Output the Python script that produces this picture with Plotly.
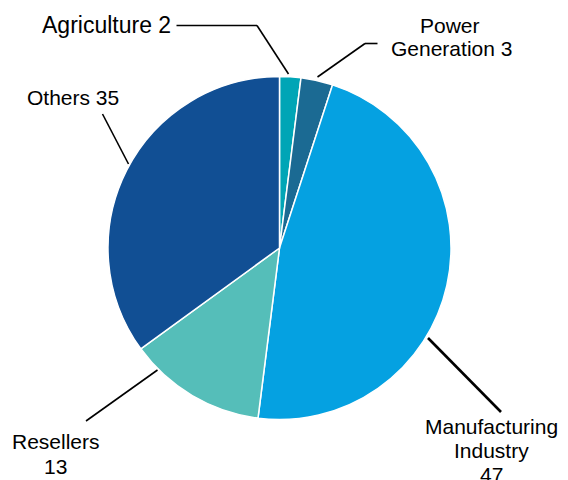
import plotly.graph_objects as go

# Data
categories = ["Agriculture", "Power Generation", "Manufacturing Industry", "Resellers", "Others"]
values = [2, 3, 47, 13, 35]
colors = ["#00A5B6", "#1B6A93", "#05A1E1", "#55BEB9", "#114F94"]

W, H = 568, 480
CX, CY, R = 279.5, 248.0, 171.5


def px(x):
    return x / W


def py(y):
    return 1 - y / H


fig = go.Figure(go.Pie(
    labels=categories,
    values=values,
    sort=False,
    direction="clockwise",
    rotation=0,
    marker=dict(colors=colors, line=dict(color="white", width=1.5)),
    textinfo="none",
    hoverinfo="label+value",
    showlegend=False,
    domain=dict(x=[px(CX - R), px(CX + R)], y=[py(CY + R), py(CY - R)]),
))

# Leader lines (pixel coordinates of layout, not data)
leaders = [
    ([(176.5, 25.5), (257, 25.5), (288.5, 74)], 1.6),
    ([(317.5, 77), (365, 43.5), (377.5, 43.5)], 1.6),
    ([(428, 338), (501, 412)], 2.6),
    ([(157.5, 370), (86, 421)], 1.6),
    ([(128.5, 164), (102.5, 114)], 1.6),
]
shapes = []
for pts, w in leaders:
    for (x0, y0), (x1, y1) in zip(pts[:-1], pts[1:]):
        shapes.append(dict(type="line", xref="paper", yref="paper",
                           x0=px(x0), y0=py(y0), x1=px(x1), y1=py(y1),
                           line=dict(color="black", width=w)))

FONT = "Liberation Sans, Arial, Helvetica, sans-serif"
# (text, x, y_center, xanchor, size)
label_lines = [
    ("Agriculture 2", 40, 25.5, "left", 23),
    ("Power", 450, 25, "center", 21),
    ("Generation 3", 451, 49, "center", 21),
    ("Others 35", 25, 98, "left", 21),
    ("Resellers", 56, 441, "center", 21),
    ("13", 56, 466, "center", 21),
    ("Manufacturing", 491, 426, "center", 21),
    ("Industry", 491, 450, "center", 21),
    ("47", 491, 474, "center", 21),
]
annotations = []
for text, x, y, xa, size in label_lines:
    annotations.append(dict(text=text, xref="paper", yref="paper",
                            x=px(x), y=py(y), xanchor=xa, yanchor="middle",
                            showarrow=False,
                            font=dict(family=FONT, size=size, color="black")))

fig.update_layout(
    width=W, height=H,
    margin=dict(l=0, r=0, t=0, b=0),
    paper_bgcolor="white",
    plot_bgcolor="white",
    shapes=shapes,
    annotations=annotations,
)

fig.write_html(
    "out.html",
    config={"displayModeBar": False},
    post_script="document.body.style.margin='0';document.body.style.overflow='hidden';",
)
